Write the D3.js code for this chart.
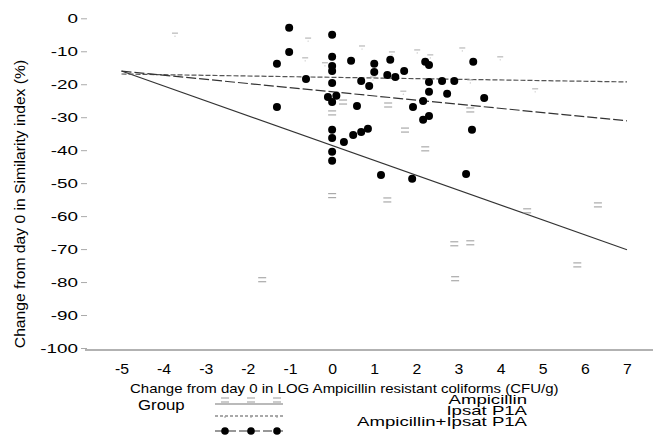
<!DOCTYPE html>
<html>
<head>
<meta charset="utf-8">
<script src="https://cdn.jsdelivr.net/npm/d3@7"></script>
<style>
  body { margin: 0; background: #fff; }
  svg { display: block; font-family: "Liberation Sans", Arial, sans-serif; }
</style>
</head>
<body>
<svg width="653" height="435"></svg>
<script>
// values
var xTicks = [-5, -4, -3, -2, -1, 0, 1, 2, 3, 4, 5, 6, 7];
var yTicks = [0, -10, -20, -30, -40, -50, -60, -70, -80, -90, -100];

var groups = ["Ampicillin", "Ipsat P1A", "Ampicillin+Ipsat P1A"];

// Ampicillin+Ipsat P1A (filled circles)
var comboX = [-1.02, -1.02, -1.31, -1.31, 0, 0, 0, 0, 0.45, -0.62, 0, 1.0, 1.0, 1.38, 1.71, 1.31,
              1.5, 0.69, 0.88, 2.21, 2.3, 3.35, 2.3, 2.61, 2.9, 2.3, 2.73, 3.61, -0.1, 0.1, 0, 0.59,
              2.16, 1.92, 2.3, 2.16, 0, 0.85, 0.69, 0.5, 0, 0.28, 3.32, 0, 0, 1.16, 1.9, 3.18];
var comboY = [-2.9, -10.2, -13.8, -26.9, -5.0, -11.7, -14.5, -16.0, -12.9, -18.4, -19.6, -13.8, -16.3, -12.6, -16.0, -17.2,
              -17.8, -19.0, -20.5, -13.2, -14.2, -13.2, -19.3, -19.0, -19.0, -22.3, -22.9, -24.2, -23.9, -23.5, -25.4, -26.6,
              -25.1, -26.9, -29.6, -30.8, -33.8, -33.5, -34.5, -35.4, -36.3, -37.5, -33.8, -40.5, -43.2, -47.5, -48.7, -47.2];

// Ampicillin (faint "=" marks)
var ampX = [-1.66, 0, 1.33, 1.73, 2.21, 2.9, 3.28, 2.92, 3.28, 4.63, 6.31, 5.82, 0, 1.31, 0.26];
var ampY = [-79.3, -28.7, -26.3, -33.9, -39.6, -68.4, -68.1, -79.0, -27.8, -58.4, -56.6, -74.8, -53.8, -55.1, -25.4];

// Ipsat P1A (faint dashes)
var ipsX = [0.71, 3.28, 3.99, 1.69, 2.02, 2.33, 1.42, 4.82, -0.57, -0.17, -3.73, 0.97, -0.64, 3.09];
var ipsY = [-8.4, -18.7, -11.7, -22.1, -9.6, -11.1, -10.2, -21.4, -6.0, -13.5, -4.5, -17.8, -12.0, -9.0];

// fitted lines: value at x = -5 and at x = 7, per group
var fitX = [-5, 7];
var fitStart = [-16.0, -16.9, -16.0];
var fitEnd = [-70.2, -19.3, -31.1];

var svg = d3.select("svg");

var x = d3.scaleLinear().domain([-5, 7]).range([121.5, 627]);
var y = d3.scaleLinear().domain([0, -100]).range([18.3, 348]);

var lineStyle = [
    { color: "#333", dash: null, width: 1.1 },
    { color: "#555", dash: "5,2", width: 1.2 },
    { color: "#333", dash: "10,3", width: 1.2 }
];

// baseline along the bottom
svg.append("line")
    .attr("x1", 85).attr("x2", 653)
    .attr("y1", 350).attr("y2", 350)
    .attr("stroke", "#999")
    .attr("stroke-width", 1.5);

// y axis
var yAxis = svg.append("g")
    .attr("transform", "translate(87,0)")
    .call(d3.axisLeft(y).tickValues(yTicks).tickSize(6).tickFormat(function (d) { return String(d); }));
yAxis.select(".domain").remove();
yAxis.selectAll(".tick line").attr("stroke", "#aaa");
yAxis.selectAll(".tick text")
    .attr("x", -6.2)
    .attr("dy", "0.36em")
    .attr("transform", "scale(1.45,1)")
    .style("font-size", "13px")
    .attr("fill", "#000");

// x axis labels
var xAxis = svg.append("g")
    .attr("transform", "translate(0,350)")
    .call(d3.axisBottom(x).tickValues(xTicks).tickSize(0).tickFormat(function (d) { return String(d); }));
xAxis.select(".domain").remove();
xAxis.selectAll(".tick text")
    .attr("y", 24)
    .attr("dy", 0)
    .attr("transform", "scale(1.13,1)")
    .style("font-size", "14px")
    .attr("fill", "#000");

// axis titles
svg.append("text")
    .attr("transform", "translate(130,393) scale(1.155,1)")
    .style("font-size", "13px")
    .text("Change from day 0 in LOG Ampicillin resistant coliforms (CFU/g)");

svg.append("text")
    .attr("transform", "translate(25,204) rotate(-90) scale(1.12,1)")
    .attr("text-anchor", "middle")
    .style("font-size", "14px")
    .text("Change from day 0 in Similarity index (%)");

// fitted lines
var fits = svg.append("g");
groups.forEach(function (g, i) {
    fits.append("line")
        .attr("x1", x(fitX[0])).attr("y1", y(fitStart[i]))
        .attr("x2", x(fitX[1])).attr("y2", y(fitEnd[i]))
        .attr("stroke", lineStyle[i].color)
        .attr("stroke-width", lineStyle[i].width)
        .attr("stroke-dasharray", lineStyle[i].dash);
});

function eqMark(sel, cx, cy) {
    sel.append("line").attr("x1", cx - 4).attr("x2", cx + 4).attr("y1", cy - 2).attr("y2", cy - 2)
        .attr("stroke", "#999").attr("stroke-width", 1);
    sel.append("line").attr("x1", cx - 4).attr("x2", cx + 4).attr("y1", cy + 2).attr("y2", cy + 2)
        .attr("stroke", "#999").attr("stroke-width", 1);
}

function dashMark(sel, cx, cy) {
    sel.append("line").attr("x1", cx - 3).attr("x2", cx + 3).attr("y1", cy).attr("y2", cy)
        .attr("stroke", "#aaa").attr("stroke-width", 1);
    sel.append("circle").attr("cx", cx).attr("cy", cy + 3).attr("r", 0.6).attr("fill", "#bbb");
}

// Ampicillin marks
var amp = svg.append("g");
ampX.forEach(function (v, i) { eqMark(amp, x(v), y(ampY[i])); });

// Ipsat marks
var ips = svg.append("g");
ipsX.forEach(function (v, i) { dashMark(ips, x(v), y(ipsY[i])); });

// combined group circles
svg.append("g")
    .selectAll("circle")
    .data(comboX)
    .enter().append("circle")
    .attr("cx", function (d) { return x(d); })
    .attr("cy", function (d, i) { return y(comboY[i]); })
    .attr("r", 4)
    .attr("fill", "#000");

// legend
var legend = svg.append("g");
legend.append("text")
    .attr("transform", "translate(138,410) scale(1.2,1)")
    .style("font-size", "14px")
    .text("Group");

var rowY = [404, 416, 431];
var markX = [225, 251, 277];
groups.forEach(function (g, i) {
    legend.append("line")
        .attr("x1", 215).attr("x2", 283)
        .attr("y1", rowY[i]).attr("y2", rowY[i])
        .attr("stroke", i === 0 ? "#777" : lineStyle[i].color)
        .attr("stroke-width", 1.1)
        .attr("stroke-dasharray", i === 1 ? "3,2" : (i === 2 ? "9,3" : null));
    markX.forEach(function (mx) {
        if (i === 0) eqMark(legend, mx, rowY[i] - 4);
        else if (i === 1) legend.append("line").attr("x1", mx).attr("x2", mx)
            .attr("y1", rowY[i]).attr("y2", rowY[i] + 2).attr("stroke", "#999");
        else legend.append("circle").attr("cx", mx).attr("cy", rowY[i]).attr("r", 3.8).attr("fill", "#000");
    });
});

var labelBase = [404, 414.5, 426];
groups.forEach(function (g, i) {
    legend.append("text")
        .attr("transform", "translate(527," + labelBase[i] + ") scale(1.43,1)")
        .attr("text-anchor", "end")
        .style("font-size", "13px")
        .text(g);
});
</script>
</body>
</html>
